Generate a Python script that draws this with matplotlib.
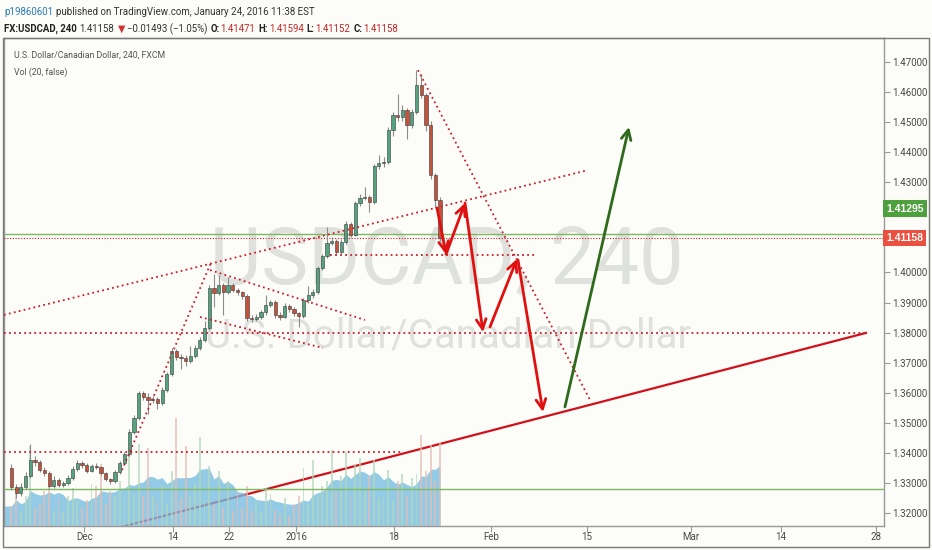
"""USDCAD 4h chart with hand-drawn projection (TradingView style)."""
import matplotlib
matplotlib.use("Agg")
import matplotlib.pyplot as plt
from matplotlib.patches import Rectangle
import numpy as np
import pandas as pd

# candles: two per trading day, x = trading days since 19 Nov 2015
first_open = 1.3350
closes = [
    1.3286, 1.3266, 1.3286, 1.3323, 1.3376, 1.3370, 1.3343, 1.3333, 1.3290, 1.3310,
    1.3293, 1.3299, 1.3316, 1.3346, 1.3366, 1.3360, 1.3340, 1.3356, 1.3352, 1.3333,
    1.3313, 1.3306, 1.3336, 1.3366, 1.3396, 1.3469, 1.3516, 1.3599, 1.3586, 1.3576,
    1.3579, 1.3566, 1.3609, 1.3662, 1.3739, 1.3719, 1.3716, 1.3706, 1.3722, 1.3749,
    1.3775, 1.3815, 1.3948, 1.3932, 1.3958, 1.3935, 1.3958, 1.3942, 1.3935, 1.3922,
    1.3849, 1.3846, 1.3852, 1.3868, 1.3892, 1.3902, 1.3859, 1.3852, 1.3888, 1.3878,
    1.3865, 1.3855, 1.3908, 1.3925, 1.3935, 1.4015, 1.4055, 1.4098, 1.4105, 1.4068,
    1.4101, 1.4161, 1.4125, 1.4231, 1.4248, 1.4251, 1.4234, 1.4354, 1.4364, 1.4367,
    1.4474, 1.4524, 1.4517, 1.4540, 1.4490, 1.4534, 1.4623, 1.4590, 1.4490, 1.4324,
    1.4241, 1.4116,
]
highs = [
    1.3362, 1.3295, 1.3300, 1.3335, 1.3430, 1.3390, 1.3378, 1.3352, 1.3340, 1.3322,
    1.3318, 1.3308, 1.3325, 1.3356, 1.3376, 1.3372, 1.3365, 1.3362, 1.3365, 1.3358,
    1.3338, 1.3318, 1.3342, 1.3372, 1.3404, 1.3478, 1.3525, 1.3606, 1.3605, 1.3598,
    1.3590, 1.3585, 1.3618, 1.3670, 1.3748, 1.3745, 1.3730, 1.3725, 1.3755, 1.3758,
    1.3785, 1.3840, 1.3960, 1.3995, 1.3990, 1.3965, 1.3985, 1.3965, 1.3950, 1.3940,
    1.3928, 1.3858, 1.3862, 1.3876, 1.3925, 1.3910, 1.3908, 1.3868, 1.3897, 1.3895,
    1.3884, 1.3870, 1.3915, 1.3955, 1.3945, 1.4022, 1.4062, 1.4150, 1.4118, 1.4110,
    1.4110, 1.4172, 1.4168, 1.4238, 1.4262, 1.4285, 1.4258, 1.4362, 1.4390, 1.4385,
    1.4485, 1.4535, 1.4595, 1.4558, 1.4548, 1.4545, 1.4675, 1.4660, 1.4598, 1.4505,
    1.4330, 1.4250,
]
lows = [
    1.3275, 1.3250, 1.3258, 1.3280, 1.3318, 1.3355, 1.3335, 1.3322, 1.3282, 1.3284,
    1.3286, 1.3287, 1.3292, 1.3310, 1.3340, 1.3350, 1.3332, 1.3335, 1.3345, 1.3326,
    1.3305, 1.3298, 1.3300, 1.3330, 1.3360, 1.3390, 1.3462, 1.3510, 1.3575, 1.3530,
    1.3565, 1.3545, 1.3560, 1.3602, 1.3655, 1.3710, 1.3680, 1.3690, 1.3698, 1.3715,
    1.3742, 1.3768, 1.3808, 1.3885, 1.3925, 1.3860, 1.3930, 1.3935, 1.3925, 1.3912,
    1.3840, 1.3836, 1.3838, 1.3845, 1.3860, 1.3885, 1.3850, 1.3842, 1.3847, 1.3870,
    1.3855, 1.3820, 1.3850, 1.3900, 1.3915, 1.3930, 1.4008, 1.4048, 1.4090, 1.4058,
    1.4060, 1.4095, 1.4118, 1.4120, 1.4222, 1.4240, 1.4200, 1.4228, 1.4345, 1.4352,
    1.4360, 1.4455, 1.4505, 1.4505, 1.4445, 1.4480, 1.4528, 1.4580, 1.4470, 1.4310,
    1.4215, 1.4105,
]
volumes = [
    20, 32, 15, 30, 80, 18, 22, 35, 40, 15, 28, 14, 30, 38, 25, 18, 26, 42, 40, 62, 22, 35,
    30, 45, 28, 70, 32, 82, 30, 78, 30, 25, 40, 22, 55, 108, 28, 80,
    30, 42, 89, 25, 60, 22, 55, 18, 45, 15, 35,
    18, 40, 15, 25, 14, 38, 32, 16, 12, 28, 10, 22,
    30, 58, 22, 66, 30, 40, 45,
    76, 35, 50, 74, 30, 62, 68, 35, 50, 66, 28, 30, 56, 25, 45, 52, 30, 48, 52, 91, 55, 81, 45, 84,
]
vol_pane_top = 488.0

tick_days = [8.0, 17.36, 23.34, 30.46, 40.82, 51.16, 61.35, 72.39, 81.94, 92.03]
tick_labels = ["Dec", "14", "22", "2016", "18", "Feb", "15", "Mar", "14", "28"]
price_ticks = [1.32, 1.33, 1.34, 1.35, 1.36, 1.37, 1.38, 1.39, 1.40, 1.41,
               1.42, 1.43, 1.44, 1.45, 1.46, 1.47]
hidden_ticks = [1.41, 1.42]   # covered by the price badges

last_price = 1.41158
green_level = 1.41295
support_level = 1.3280

# drawings, (day, price)
dotted_segments = [
    ((-0.54, 1.3859), (61.14, 1.4338)),   # long rising channel line
    ((11.99, 1.3343), (21.43, 1.4032)),   # steep rally line
    ((21.33, 1.4008), (37.78, 1.3842)),   # flag top
    ((20.27, 1.3852), (33.32, 1.3749)),   # flag bottom
    ((43.41, 1.4673), (61.67, 1.3576)),   # from the top
]
dotted_levels = [(1.3403, -0.54, 41.81), (1.3800, -0.54, 90.96), (1.4058, 34.07, 55.83)]
trend_days = [11.46, 90.96]
trend_prices = [1.3150, 1.3799]
red_arrows = [
    ((45.43, 1.4214), (46.39, 1.4061)),
    ((46.39, 1.4061), (48.40, 1.4231)),
    ((48.40, 1.4231), (50.31, 1.3802)),
    ((51.05, 1.3819), (53.92, 1.4045)),
    ((54.02, 1.4042), (56.68, 1.3536)),
]
green_arrow = ((59.01, 1.3553), (65.81, 1.4484))

W, H = 932, 550
BG = "#fcfcf8"
RED = "#cc1d2a"
FONT = ["Roboto", "DejaVu Sans"]


def put_runs(fig, x, y, runs, size):
    """Place coloured text pieces one after another (x, y in image pixels)."""
    r = fig.canvas.get_renderer()
    for text, color, weight, gap in runs:
        t = fig.text(x / W, 1 - y / H, text, color=color, fontsize=size,
                     fontweight=weight, va="center", ha="left", family=FONT)
        x += t.get_window_extent(r).width + gap


fig = plt.figure(figsize=(W / 100, H / 100), dpi=100, facecolor=BG)
ax = fig.add_axes([4 / W, 24 / H, 880 / W, 488 / H])
ax.set_facecolor(BG)
ax.set_xlim(-0.54, 92.88)
ax.set_ylim(1.31569, 1.47798)

n = len(closes)
days = np.arange(n) * 0.5 + 0.25
c = np.array(closes)
o = np.r_[first_open, c[:-1]]
hi = np.array(highs)
lo = np.array(lows)
up = c >= o

# volume pane (bottom overlay)
vol = np.array(volumes, dtype=float)
vol_ma = pd.Series(vol).rolling(8, min_periods=1).mean().values
xt = ax.get_xaxis_transform()
ax.fill_between(np.r_[-0.54, days], 0, np.r_[vol_ma[0], vol_ma] / vol_pane_top, transform=xt,
                color="#76bce2", alpha=0.78, lw=0, zorder=1.5)
ax.bar(days, vol / vol_pane_top, width=0.2, transform=xt,
       color=np.where(up, "#b2d8bb", "#e6bdb4"), alpha=0.7, lw=0, zorder=2)

# solid red trendline (under the volume tint)
ax.plot(trend_days, trend_prices, color="#d2101c", lw=1.6, zorder=1.2)

# watermark
ax.text(0.503, 0.496, "USDCAD, 240", transform=ax.transAxes, ha="center",
        va="baseline", fontsize=57, color="#dfe1dd", family="Roboto", zorder=0.5)
ax.text(0.505, 0.3648, "U.S. Dollar/Canadian Dollar", transform=ax.transAxes, ha="center",
        va="baseline", fontsize=29, color="#dfe1dd", family="Roboto", zorder=0.5)

# candles
ax.vlines(days, lo, hi, color="#8c8c8c", lw=0.8, zorder=3)
ax.bar(days, np.maximum(np.abs(c - o), 0.00015), bottom=np.minimum(o, c), width=0.34,
       color=np.where(up, "#53a37e", "#c4533e"), edgecolor="#3a3a3a", lw=0.4, zorder=4)

# horizontal levels
ax.axhline(green_level, color="#7db862", lw=1.0, zorder=2.6)
ax.axhline(support_level, color="#7db862", lw=1.0, zorder=2.6)
ax.axhline(last_price, color=RED, lw=0.8, ls=(0, (1, 1.5)), zorder=2.6)
for level, x0, x1 in dotted_levels:
    ax.plot([x0, x1], [level, level], color=RED, lw=1.3, ls=(0, (1, 1.8)), zorder=5)
for (x0, y0), (x1, y1) in dotted_segments:
    ax.plot([x0, x1], [y0, y1], color=RED, lw=1.3, ls=(0, (1, 1.8)), zorder=5)

# projection arrows
for start, end in red_arrows:
    ax.annotate("", xy=end, xytext=start, zorder=6,
                arrowprops=dict(arrowstyle="->,head_length=0.7,head_width=0.35",
                                color="#e01010", lw=2, shrinkA=0, shrinkB=0))
ax.annotate("", xy=green_arrow[1], xytext=green_arrow[0], zorder=6,
            arrowprops=dict(arrowstyle="->,head_length=0.7,head_width=0.35",
                            color="#2f6a1c", lw=2, shrinkA=0, shrinkB=0))

# axes styling
for side in ["left", "top", "right", "bottom"]:
    ax.spines[side].set_color("#9a9a9a")
    ax.spines[side].set_linewidth(1)
ax.yaxis.tick_right()
ax.set_yticks(price_ticks)
ax.set_yticklabels(["" if p in hidden_ticks else f"{p:.5f}" for p in price_ticks],
                   family="Roboto")
ax.set_xticks(tick_days)
ax.set_xticklabels(tick_labels, family="Roboto")
ax.tick_params(axis="y", direction="out", length=4, color="#9a9a9a", labelsize=7,
               labelcolor="#4a4a4a", pad=2)
ax.tick_params(axis="x", direction="out", length=4, color="#9a9a9a", labelsize=7,
               labelcolor="#4a4a4a", pad=0.5)

# price badges on the scale
yt = ax.get_yaxis_transform()
for text, level, dy, fc in [("1.41295", green_level, 18, "#4e9f3d"),
                            ("1.41158", last_price, 0, "#e9503f")]:
    ax.annotate(text, xy=(1.0, level), xycoords=yt, xytext=(1.5, dy),
                textcoords="offset points", va="center", ha="left", fontsize=7.5,
                color="white", fontweight="bold", family="Liberation Sans",
                annotation_clip=False, zorder=10,
                bbox=dict(boxstyle="square,pad=0.3", fc=fc, ec="none"))

# legend texts inside the chart
ax.text(10 / 880, (526 - 55) / 488, "U.S. Dollar/Canadian Dollar, 240, FXCM",
        transform=ax.transAxes, fontsize=6.3, color="#555555", va="center", family=FONT)
ax.text(10 / 880, (526 - 72) / 488, "Vol (20, false)",
        transform=ax.transAxes, fontsize=6.3, color="#555555", va="center", family=FONT)

# outer frame
fig.patches.append(Rectangle((3 / W, 3 / H), 926 / W, 509 / H, transform=fig.transFigure,
                             fill=False, ec="#7a7a7a", lw=1))

# header
put_runs(fig, 4, 12, [
    ("p19860601", "#2b7bb9", "normal", 3),
    ("published on TradingView.com, January 24, 2016 11:38 EST", "#333333", "normal", 0),
], 7.0)
put_runs(fig, 4, 29, [
    ("FX:USDCAD, 240", "#222222", "bold", 3),
    ("1.41158", "#333333", "normal", 3),
    ("\u25bc", "#d0312d", "normal", 2),
    ("\u22120.01493 (\u22121.05%)", "#333333", "normal", 3),
    ("O:", "#222222", "bold", 1),
    ("1.41471", "#c62828", "normal", 3),
    ("H:", "#222222", "bold", 1),
    ("1.41594", "#c62828", "normal", 3),
    ("L:", "#222222", "bold", 1),
    ("1.41152", "#c62828", "normal", 3),
    ("C:", "#222222", "bold", 1),
    ("1.41158", "#c62828", "normal", 0),
], 6.9)

fig.savefig("out.png", dpi=100, facecolor=BG)
